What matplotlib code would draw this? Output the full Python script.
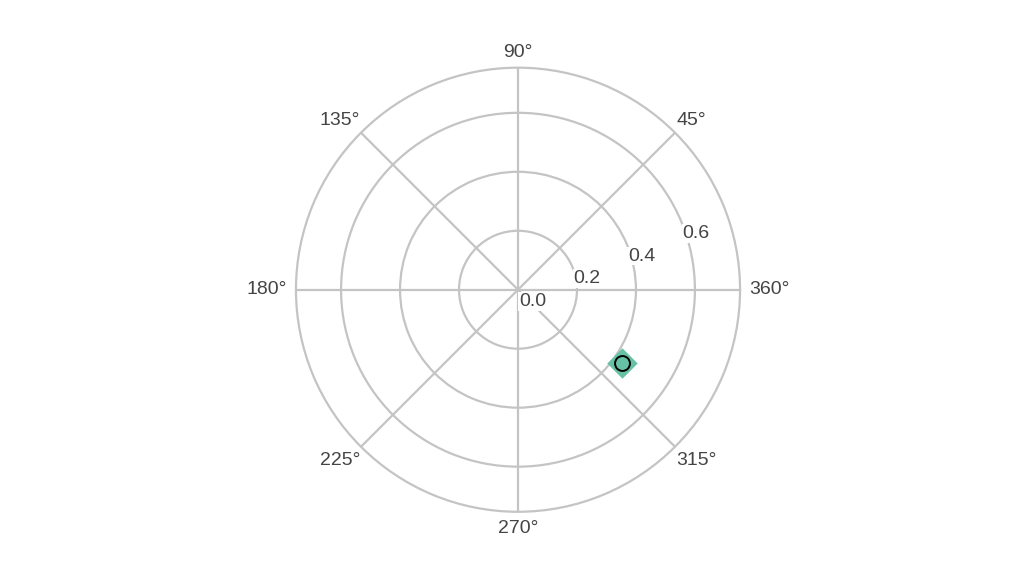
import matplotlib
matplotlib.use("Agg")
import matplotlib.pyplot as plt
import numpy as np
import seaborn as sns

sns.set_theme(style="whitegrid")
plt.rcParams["font.family"] = ["Liberation Sans", "DejaVu Sans"]

theta_deg = [325.1]
r_values = [0.432]
angle_ticks = [0, 45, 90, 135, 180, 225, 270, 315]
angle_labels = ["360°", "45°", "90°", "135°", "180°", "225°", "270°", "315°"]
r_ticks = [0.0, 0.2, 0.4, 0.6]
r_max = 0.753

grid_color = "#c4c4c4"
text_color = "#444444"

fig = plt.figure(figsize=(10.36, 5.76), dpi=100)
ax = fig.add_axes([0.1, 0.1115, 0.8, 0.771], projection="polar")

th = np.deg2rad(theta_deg)
ax.scatter(th, r_values, marker="D", s=240, color="#66c2a5", zorder=3, linewidths=0)
ax.scatter(th, r_values, marker="o", s=115, facecolor="#66c2a5", edgecolor="black", linewidths=1.4, zorder=4)

ax.set_thetagrids(angle_ticks, [""] * len(angle_ticks))
ax.set_rticks(r_ticks)
ax.set_yticklabels([])
ax.set_rlim(0, r_max)
ax.grid(True, color=grid_color, linewidth=1.6)
ax.spines["polar"].set_color(grid_color)
ax.spines["polar"].set_linewidth(1.6)

for a, lab in zip(angle_ticks, angle_labels):
    c, s = np.cos(np.deg2rad(a)), np.sin(np.deg2rad(a))
    if abs(c) > 0.9:
        dx, ha = 9 * np.sign(c), ("left" if c > 0 else "right")
    elif abs(c) > 0.1:
        dx, ha = 1 * np.sign(c), ("left" if c > 0 else "right")
    else:
        dx, ha = 0, "center"
    if abs(s) > 0.9:
        dy, va = (7 if s > 0 else -8), ("bottom" if s > 0 else "top")
    elif abs(s) > 0.1:
        dy, va = (4 if s > 0 else -5), ("bottom" if s > 0 else "top")
    else:
        dy, va = 0, "center"
    ax.annotate(lab, xy=(np.deg2rad(a), r_max), xytext=(dx, dy),
                textcoords="offset pixels", ha=ha, va=va, fontsize=14,
                color=text_color, annotation_clip=False)

lab_angle = np.deg2rad(22.5)
for v in r_ticks:
    ax.annotate(f"{v:.1f}", xy=(lab_angle, v), xytext=(1, -3),
                textcoords="offset pixels", ha="left", va="top", fontsize=14,
                color=text_color, zorder=2,
                bbox=dict(facecolor="white", edgecolor="none", pad=0.5))

fig.savefig("out.png", dpi=100)
